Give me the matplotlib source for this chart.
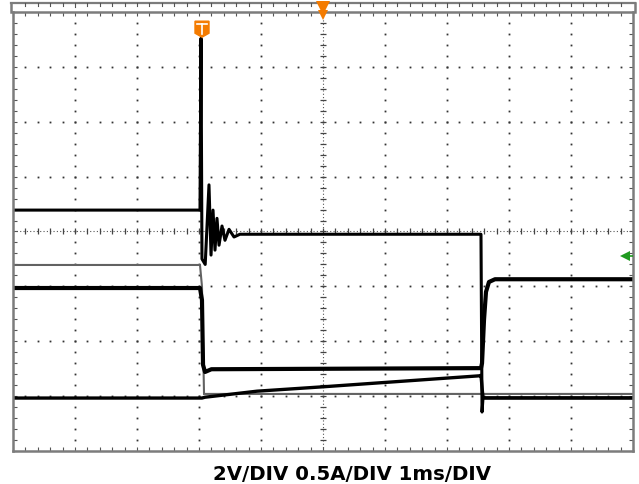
import numpy as np
import matplotlib
matplotlib.use("Agg")
import matplotlib.pyplot as plt
from matplotlib.patches import Polygon

# Scope traces: time in ms (1 ms/div), level in screen divisions (0 = bottom)
t_a = [0, 3.016, 3.032, 3.048, 3.10, 3.161, 3.194, 3.226, 3.258, 3.29, 3.323, 3.371,
       3.419, 3.484, 3.565, 3.66, 7.548, 7.565, 7.581, 10]
v_a = [4.39, 4.39, 7.52, 3.50, 3.40, 4.85, 3.57, 4.39, 3.66, 4.24, 3.75, 4.10,
       3.84, 4.04, 3.90, 3.95, 3.95, 0.71, 0.97, 0.97]

t_b = [0, 3.016, 3.048, 3.065, 3.097, 3.20, 7.548, 7.565, 7.597, 7.629, 7.677, 7.774, 10]
v_b = [2.97, 2.97, 2.75, 1.57, 1.44, 1.49, 1.51, 1.60, 2.39, 2.90, 3.08, 3.13, 3.13]

t_c = [0, 3.016, 3.048, 3.081, 10]
v_c = [3.39, 3.39, 3.00, 1.04, 1.04]

t_d = [0, 3.048, 3.097, 3.935, 5.0, 7.52, 7.548, 7.581, 10]
v_d = [0.965, 0.965, 0.98, 1.09, 1.17, 1.37, 1.38, 0.965, 0.965]

label = "2V/DIV 0.5A/DIV 1ms/DIV"

W, H = 639, 484
fig = plt.figure(figsize=(W / 100, H / 100), dpi=100)
ax = fig.add_axes([13 / W, (H - 451) / H, 620 / W, 439 / H])
ax.set_xlim(0, 10)
ax.set_ylim(0, 8)

frame = "#7c7c7c"
for s in ax.spines.values():
    s.set_color(frame)
    s.set_linewidth(1.8)
ax.set_xticks(np.arange(0, 10.01, 0.2))
ax.set_yticks(np.arange(0, 8.01, 0.2))
ax.tick_params(direction="in", length=3, width=0.8, color="#555555",
               top=True, right=True, labelbottom=False, labelleft=False)

# grid dots
minor_x = np.arange(0.2, 10, 0.2)
minor_y = np.arange(0.2, 8, 0.2)
for gx in range(1, 10):
    if gx == 5:
        continue
    ax.plot(np.full_like(minor_y, gx), minor_y, ls="none", marker="s", ms=1.3,
            mew=0, color="#333333")
for gy in range(1, 8):
    if gy == 4:
        continue
    ax.plot(minor_x, np.full_like(minor_x, gy), ls="none", marker="s", ms=1.3,
            mew=0, color="#333333")
# centre lines
ax.axvline(5, color="#555555", lw=0.8, ls=(0, (1, 2)))
ax.axhline(4, color="#555555", lw=0.8, ls=(0, (1, 2)))
ax.plot(np.full_like(minor_y, 5), minor_y, ls="none", marker="_", ms=5, mew=0.9, color="#444444")
ax.plot(minor_x, np.full_like(minor_x, 4), ls="none", marker="|", ms=5, mew=0.9, color="#444444")

# top strip
ys = 8 + 9 / 54.9
ax.plot([-0.03, 10.03], [ys, ys], color=frame, lw=1.6, clip_on=False)
ax.plot([-0.03, -0.03], [8, ys], color=frame, lw=1.8, clip_on=False)
ax.plot([10.03, 10.03], [8, ys], color=frame, lw=1.8, clip_on=False)
for tx in np.arange(0.2, 10, 0.2):
    ln = 4 if abs(tx - round(tx)) < 1e-6 and round(tx) % 3 == 1 else 2.5
    ax.plot([tx, tx], [ys, ys - ln / 54.9], color="#555555", lw=0.8, clip_on=False)

# traces
ax.plot(t_c, v_c, color="#626262", lw=1.5, solid_joinstyle="miter")
ax.plot(t_d, v_d, color="black", lw=2.4)
ax.plot(t_b, v_b, color="black", lw=3.0)
ax.plot(t_a, v_a, color="black", lw=2.2)

# markers
orange = "#f47b00"
sx = [(p - 13) / 62 for p in (195, 209, 209, 202, 195)]
sy = [(451 - p) / 54.9 for p in (21, 21, 33, 37, 33)]
ax.add_patch(Polygon(list(zip(sx, sy)), closed=True, color=orange, clip_on=False, zorder=5))
ax.plot([(197 - 13) / 62, (207 - 13) / 62], [(451 - 24) / 54.9] * 2, color="white", lw=1.2, zorder=6)
ax.plot([(202 - 13) / 62] * 2, [(451 - 24) / 54.9, (451 - 34) / 54.9], color="white", lw=1.2, zorder=6)

ax.plot([5.0], [8 + 4.5 / 54.9], marker="v", ms=10, color=orange, mew=0, clip_on=False, zorder=6)
ax.plot([5.0], [8 - 3 / 54.9], marker="v", ms=7, color=orange, mew=0, clip_on=False, zorder=6)

green = "#1f9a1f"
ax.plot([9.9, 10.0], [3.56, 3.56], color=green, lw=1.2, zorder=6)
ax.plot([9.87], [3.56], marker="<", ms=7, color=green, mew=0, zorder=6)

fig.text(352 / W, 1 - 480 / H, label, ha="center", va="baseline",
         fontsize=14.2, fontweight="bold", color="black")

fig.savefig("out.png", dpi=100, facecolor="white")
